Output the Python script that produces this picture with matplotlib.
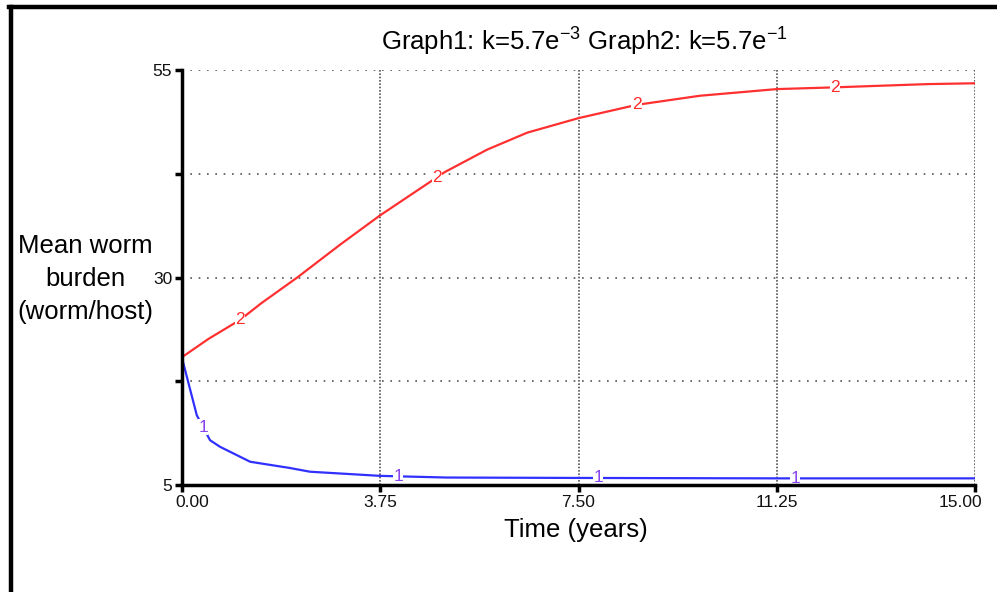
import numpy as np
import matplotlib
matplotlib.use("Agg")
import matplotlib.pyplot as plt
from matplotlib.lines import Line2D
from matplotlib.transforms import ScaledTranslation

plt.rcParams['font.family'] = ['Liberation Sans', 'DejaVu Sans']
plt.rcParams['mathtext.fontset'] = 'custom'
plt.rcParams['mathtext.rm'] = 'Liberation Sans'
plt.rcParams['mathtext.it'] = 'Liberation Sans'
plt.rcParams['mathtext.default'] = 'regular'

# graph 1: k = 5.7e-3 (blue)
t_graph1 = [0.0, 0.28, 0.53, 0.72, 1.29, 2.04, 2.42, 3.75, 5.0, 7.5, 11.25, 15.0]
w_graph1 = [20.3, 13.4, 10.4, 9.6, 7.8, 7.05, 6.6, 6.1, 5.9, 5.85, 5.8, 5.8]
# graph 2: k = 5.7e-1 (red)
t_graph2 = [0.0, 0.5, 1.1, 1.5, 2.18, 3.0, 3.75, 4.97, 5.77, 6.53, 7.5, 8.6,
            9.8, 11.25, 12.3, 14.1, 15.0]
w_graph2 = [20.4, 22.6, 24.9, 26.9, 30.0, 34.0, 37.5, 42.7, 45.4, 47.45, 49.2, 50.8,
            51.9, 52.7, 52.9, 53.3, 53.4]

# where the curve numbers sit along each line
tag_t1 = [0.4, 4.09, 7.87, 11.6]
tag_t2 = [1.1, 4.82, 8.6, 12.35]

x_ticks = [0.0, 3.75, 7.5, 11.25, 15.0]
x_ticklabels = ['0.00', '3.75', '7.50', '11.25', '15.00']
y_ticks = [5, 17.5, 30, 42.5, 55]
y_ticklabels = ['5', '', '30', '', '55']

W, H = 997, 592
fig = plt.figure(figsize=(W / 100, H / 100), dpi=100)
fig.patch.set_facecolor('white')

ax = fig.add_axes([182 / W, 1 - 485 / H, (975 - 182) / W, (485 - 70) / H])
ax.set_xlim(0, 15)
ax.set_ylim(5, 55)

red = '#ff3030'
blue = '#3030ff'
ax.plot(t_graph2, w_graph2, color=red, lw=1.6, zorder=3)
ax.plot(t_graph1, w_graph1, color=blue, lw=1.6, zorder=3)

for t in tag_t1:
    ax.text(t, np.interp(t, t_graph1, w_graph1), '1', color='#8844ee', fontsize=12.5,
            ha='center', va='center', zorder=4,
            bbox=dict(facecolor='white', edgecolor='none', pad=0.3))
for t in tag_t2:
    ax.text(t, np.interp(t, t_graph2, w_graph2), '2', color='#ff2a2a', fontsize=12.5,
            ha='center', va='center', zorder=4,
            bbox=dict(facecolor='white', edgecolor='none', pad=0.3))

ax.set_xticks(x_ticks)
ax.set_xticklabels(x_ticklabels)
ax.set_yticks(y_ticks)
ax.set_yticklabels(y_ticklabels)
ax.tick_params(axis='both', direction='out', length=5, width=2.5, color='black',
               labelsize=12.5, labelcolor='#111111')
ax.tick_params(axis='x', pad=2)
ax.tick_params(axis='y', pad=2)

# end labels are pulled inwards so they stay inside the plot span
xlabels = ax.get_xticklabels()
xlabels[0].set_horizontalalignment('left')
xlabels[0].set_transform(xlabels[0].get_transform()
                         + ScaledTranslation(-7 / 100, 0, fig.dpi_scale_trans))
xlabels[-1].set_horizontalalignment('right')
xlabels[-1].set_transform(xlabels[-1].get_transform()
                          + ScaledTranslation(7 / 100, 0, fig.dpi_scale_trans))

ax.xaxis.grid(True, color='#555555', linestyle=(0, (1, 1)), lw=1.2)
ax.yaxis.grid(True, color='#555555', linestyle=(0, (1, 4)), lw=1.2)
ax.set_axisbelow(True)

for side in ['top', 'right']:
    ax.spines[side].set_visible(False)
for side in ['left', 'bottom']:
    ax.spines[side].set_linewidth(2.5)
    ax.spines[side].set_color('black')
    ax.spines[side].set_zorder(5)

fig.text(584 / W, 1 - 42 / H, r'Graph1: k=5.7e$^{-3}$ Graph2: k=5.7e$^{-1}$',
         ha='center', va='center', fontsize=18.5)
fig.text(85 / W, 1 - 279 / H, 'Mean worm\nburden\n(worm/host)',
         ha='center', va='center', fontsize=18.5, linespacing=1.45)
fig.text(576 / W, 1 - 530 / H, 'Time (years)', ha='center', va='center', fontsize=18.5)

# window frame on the left and top
fig.add_artist(Line2D([11 / W, 11 / W], [0, 1 - 7 / H], color='black', lw=3.2,
                      transform=fig.transFigure))
fig.add_artist(Line2D([9 / W, 1], [1 - 7 / H, 1 - 7 / H], color='black', lw=3.2,
                      transform=fig.transFigure))

fig.savefig('out.png', dpi=100)
